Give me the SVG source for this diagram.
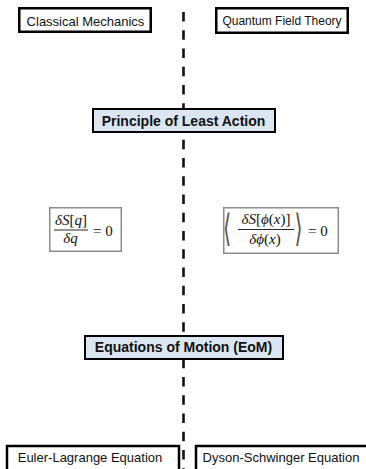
<svg xmlns="http://www.w3.org/2000/svg" width="366" height="469" viewBox="0 0 366 469">
<style>
.box{fill:#fff;stroke:#000;stroke-width:2.5}
.hbox{fill:#dce6f2;stroke:#000;stroke-width:2}
.eq{fill:#fff;stroke:#8c8c8c;stroke-width:1.5}
.t{font-family:"Liberation Sans",Arial,sans-serif;fill:#111;text-anchor:middle}
.b{font-weight:bold;font-size:14px}
.m{font-family:"Liberation Serif","Times New Roman",serif;font-size:15px;fill:#111}
.i{font-style:italic}
.fl{stroke:#111;stroke-width:0.9}
.ang{font-family:"DejaVu Serif",serif;font-size:13px;fill:#555}
</style>
<rect width="366" height="469" fill="#fff"/>
<g id="connectors">
<line x1="183.5" y1="12" x2="183.5" y2="469" stroke="#111" stroke-width="2.6" stroke-dasharray="9.5 8.75"/>
</g>
<g id="classical">
<rect class="box" x="19.25" y="8.25" width="131.5" height="23.5"/>
<text class="t" x="85.5" y="25.5" font-size="13">Classical Mechanics</text>
</g>
<g id="qft">
<rect class="box" x="216.25" y="8.25" width="131.5" height="24.5"/>
<text class="t" x="282" y="24.5" font-size="12">Quantum Field Theory</text>
</g>
<g id="least-action">
<rect class="hbox" x="93" y="109" width="182" height="23"/>
<text class="t b" x="183.5" y="126">Principle of Least Action</text>
</g>
<g id="eq-classical">
<rect class="eq" x="49.75" y="207.75" width="71.5" height="43.5"/>
<text class="m" x="71" y="225" text-anchor="middle"><tspan class="i">δS</tspan>[<tspan class="i">q</tspan>]</text>
<line class="fl" x1="54" y1="230" x2="88" y2="230"/>
<text class="m i" x="70.5" y="243" text-anchor="middle">δq</text>
<text class="m" x="93" y="236">= 0</text>
</g>
<g id="eq-qft">
<rect class="eq" x="223.75" y="207.75" width="114.5" height="45.5"/>
<text class="ang" transform="translate(223,241) scale(1.6,2.9)">⟨</text>
<text class="m" x="266" y="223.5" text-anchor="middle" font-size="15.5"><tspan class="i">δS</tspan>[<tspan class="i">ϕ</tspan>(<tspan class="i">x</tspan>)]</text>
<line class="fl" x1="238" y1="229.5" x2="294" y2="229.5"/>
<text class="m" x="265" y="244" text-anchor="middle" font-size="15.5"><tspan class="i">δϕ</tspan>(<tspan class="i">x</tspan>)</text>
<text class="ang" transform="translate(294.5,241) scale(1.6,2.9)">⟩</text>
<text class="m" x="308" y="236">= 0</text>
</g>
<g id="eom">
<rect class="hbox" x="85" y="336" width="198" height="23"/>
<text class="t b" x="183.5" y="352">Equations of Motion (EoM)</text>
</g>
<g id="euler-lagrange">
<rect class="box" x="7" y="446" width="172" height="40" stroke-width="2"/>
<text class="t" x="90" y="462" font-size="13">Euler-Lagrange Equation</text>
</g>
<g id="dyson-schwinger">
<rect class="box" x="196" y="446" width="180" height="40" stroke-width="2"/>
<text class="t" x="281" y="462" font-size="13">Dyson-Schwinger Equation</text>
</g>
</svg>
